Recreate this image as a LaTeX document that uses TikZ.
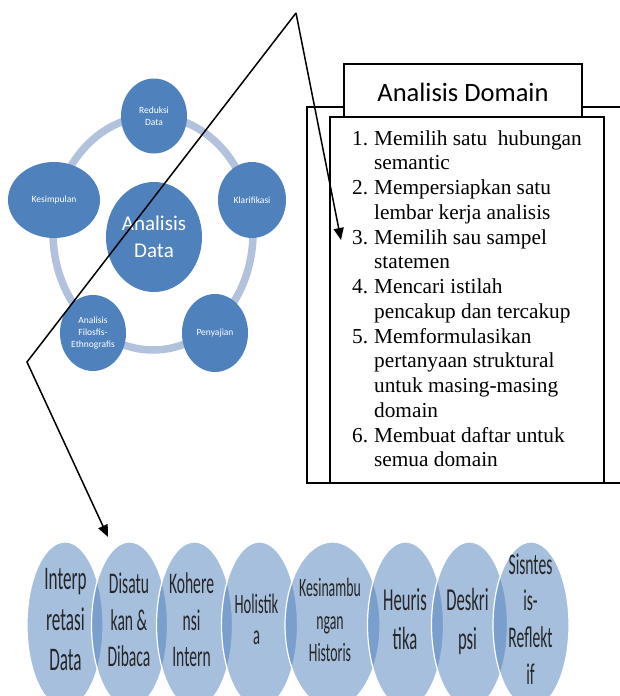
\documentclass[tikz,border=0pt]{standalone}
\usepackage{fontspec}
\usepackage{graphicx}
\setmainfont{Liberation Serif}
\newfontfamily\timesfont{Liberation Serif}
\newfontfamily\carlitofont{Carlito}
\usetikzlibrary{shapes.geometric,arrows.meta}
\definecolor{nodeblue}{HTML}{4F81BD}
\definecolor{ringblue}{RGB}{178,194,221}
\newcommand\vtxt[3]{\scalebox{0.52}[1]{\carlitofont\fontsize{#1}{#2}\selectfont\begin{tabular}{@{}c@{}}#3\end{tabular}}}
\begin{document}
\begin{tikzpicture}[x=1pt,y=-1pt,
  cyc/.style={ellipse, fill=nodeblue, text=white, inner sep=0pt, align=center,
    font=\carlitofont\fontsize{9.5}{12}\selectfont},
  venn/.style={ellipse, fill=nodeblue, fill opacity=0.5, draw=white, draw opacity=1,
    line width=1.2pt, minimum width=76pt, minimum height=166pt, inner sep=0pt},
  vt/.style={inner sep=0pt, text=black!85},
  boxstyle/.style={rectangle, draw=black, line width=1.1pt, fill=white, inner sep=0pt},
  conn/.style={line width=1.5pt, black},
  tip/.style={-{Triangle[length=12pt,width=10pt]}}
]
\useasboundingbox[fill=white] (0,0) rectangle (619,696);

% ---- cycle diagram ----
\draw[ringblue, line width=7.5pt] (153,233) ellipse [x radius=100pt, y radius=117pt];
\node[cyc, minimum width=96pt, minimum height=110pt, font=\carlitofont\fontsize{21}{27}\selectfont] (center) at (154,237) {Analisis\\Data};
\node[cyc, minimum width=66pt, minimum height=75pt] (red) at (154,116) {Reduksi\\Data};
\node[cyc, minimum width=68pt, minimum height=76pt] (kla) at (252,200) {Klarifikasi};
\node[cyc, minimum width=66pt, minimum height=78pt] (pen) at (215,333) {Penyajian};
\node[cyc, minimum width=66pt, minimum height=76pt] (fil) at (93,333) {Analisis\\Filosfis-\\Ethnografis};
\node[cyc, minimum width=92pt, minimum height=76pt] (kes) at (54,200) {Kesimpulan};

% ---- Analisis Domain boxes ----
\node[boxstyle, fill=none, minimum width=330pt, minimum height=376pt] (outerbox) at (472,295) {};
\node[boxstyle, minimum width=238pt, minimum height=53pt] (titlebox) at (463,90.5) {};
\node[anchor=base, inner sep=0pt, font=\carlitofont\fontsize{26.5}{32}\selectfont] (titletext) at (463,101.5) {Analisis Domain};
\node[boxstyle, minimum width=274pt, minimum height=366pt] (innerbox) at (467,300) {};
\node[anchor=base west, inner sep=0pt, font=\timesfont\fontsize{21.3}{24.75}\selectfont] (list) at (352,145) {%
\begin{tabular}[t]{@{}l@{\hspace{6pt}}l@{}}
1. & Memilih satu\ \ hubungan\\
   & semantic\\
2. & Mempersiapkan satu\\
   & lembar kerja analisis\\
3. & Memilih sau sampel\\
   & statemen\\
4. & Mencari istilah\\
   & pencakup dan tercakup\\
5. & Memformulasikan\\
   & pertanyaan struktural\\
   & untuk masing-masing\\
   & domain\\
6. & Membuat daftar untuk\\
   & semua domain
\end{tabular}};

% ---- bottom Venn row ----
\node[venn] (v1) at (65,625) {};
\node[venn] (v2) at (129.5,625) {};
\node[venn] (v3) at (194.5,625) {};
\node[venn] (v4) at (259.5,625) {};
\node[venn, minimum width=95pt] (v5) at (332.5,625) {};
\node[venn] (v6) at (405.5,625) {};
\node[venn] (v7) at (469.5,625) {};
\node[venn] (v8) at (531,625) {};

\node[vt] (t1) at (65.5,622) {\vtxt{33}{40.5}{Interp\\retasi\\Data}};
\node[vt] (t2) at (129,623) {\vtxt{30}{36.5}{Disatu\\kan \&\\Dibaca}};
\node[vt] (t3) at (191.5,623) {\vtxt{30}{36.5}{Kohere\\nsi\\Intern}};
\node[vt] (t4) at (256.5,622.5) {\vtxt{28}{31}{Holistik\\a}};
\node[vt] (t5) at (330,622.5) {\vtxt{26.5}{32.5}{Kesinambu\\ngan\\Historis}};
\node[vt] (t6) at (405,622.5) {\vtxt{32}{39}{Heuris\\tika}};
\node[vt] (t7) at (467.5,622.5) {\vtxt{32}{39}{Deskri\\psi}};
\node[vt] (t8) at (530.5,622) {\vtxt{30}{36.7}{Sisntes\\is-\\Reflekt\\if}};

% ---- connectors ----
\coordinate (apex) at (296,13);
\coordinate (bend) at (27,362);
\coordinate (tipA) at (341,240);
\coordinate (tipB) at (108,537);
\draw[conn, tip] (apex) -- (tipA);
\draw[conn, tip] (apex) -- (bend) -- (tipB);
\end{tikzpicture}
\end{document}
